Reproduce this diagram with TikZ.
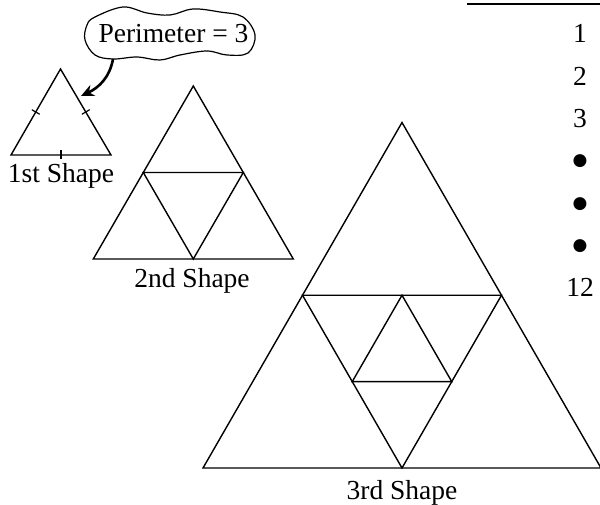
\documentclass[tikz,border=0pt]{standalone}
\usepackage{fontspec}
\setmainfont{Liberation Serif}
\newfontfamily\dotfont{DejaVu Sans}
\usetikzlibrary{arrows.meta, calc, positioning}
\newcommand{\bigdot}{\raisebox{2pt}{\dotfont\fontsize{8.5}{9}\selectfont ●}}

\begin{document}
\begin{tikzpicture}[
        x=0.5pt, y=0.5pt,
        edge/.style={line width=0.7pt, line join=miter},
        tickmark/.style={line width=0.6pt},
        caption/.style={font=\fontsize{13.75}{16}\selectfont, anchor=base, inner sep=0pt},
        callout/.style={line width=0.6pt},
        pointer/.style={line width=1.3pt, -{Stealth[length=6.5pt, width=6pt]}}
    ]
        \useasboundingbox (0,0) rectangle (600,504);

        % 1st Shape
        \coordinate (a1) at (60.5,435);
        \coordinate (b1) at (11,349);
        \coordinate (c1) at (111,349);
        \draw[edge] (a1) -- (b1) -- (c1) -- cycle;
        \foreach \p/\q in {a1/b1, a1/c1, b1/c1} {
            \path ($(\p)!0.5!(\q)$) coordinate (mid);
            \draw[tickmark] ($(mid)!2.25pt!90:(\q)$) -- ($(mid)!2.25pt!-90:(\q)$);
        }
        \node[caption] (cap1) at (61,321) {1st Shape};

        % Callout
        \node[caption] (perim) at (173.5,461) {Perimeter = 3};
        \draw[callout] plot[smooth cycle, tension=0.6] coordinates {
            (95,487) (123,497) (147,491) (170,489) (193,495) (220,492) (243,487)
            (255,469) (248,451) (227,449) (207,453) (180,449) (160,444) (137,447)
            (113,445) (95,449) (85,464) (87,479)};
        \coordinate (tail) at (113,445);
        \coordinate (tip) at (81,408);
        \draw[pointer] (tail) to[out=-100, in=25] (tip);

        % 2nd Shape
        \coordinate (a2) at (193.3,418);
        \coordinate (b2) at (93.3,245);
        \coordinate (c2) at (293.3,245);
        \coordinate (ab2) at ($(a2)!0.5!(b2)$);
        \coordinate (bc2) at ($(b2)!0.5!(c2)$);
        \coordinate (ca2) at ($(c2)!0.5!(a2)$);
        \draw[edge] (a2) -- (b2) -- (c2) -- cycle;
        \draw[edge] (ab2) -- (bc2) -- (ca2) -- cycle;
        \node[caption] (cap2) at (192,216) {2nd Shape};

        % 3rd Shape
        \coordinate (a3) at (402,381.5);
        \coordinate (b3) at (203,36);
        \coordinate (c3) at (601,36);
        \coordinate (ab3) at ($(a3)!0.5!(b3)$);
        \coordinate (bc3) at ($(b3)!0.5!(c3)$);
        \coordinate (ca3) at ($(c3)!0.5!(a3)$);
        \coordinate (top3) at ($(ab3)!0.5!(ca3)$);
        \coordinate (left3) at ($(ab3)!0.5!(bc3)$);
        \coordinate (right3) at ($(ca3)!0.5!(bc3)$);
        \draw[edge] (a3) -- (b3) -- (c3) -- cycle;
        \draw[edge] (ab3) -- (bc3) -- (ca3) -- cycle;
        \draw[edge] (top3) -- (left3) -- (right3) -- cycle;
        \node[caption] (cap3) at (402,5) {3rd Shape};

        % Column of values
        \coordinate (ruleL) at (467,500);
        \coordinate (ruleR) at (600,500);
        \draw[line width=1pt] (ruleL) -- (ruleR);
        \foreach \v [count=\i] in {1,2,3,\bigdot,\bigdot,\bigdot,12}
            \node[caption] (row\i) at (580,{503.3-42.3*\i}) {\v};

    \end{tikzpicture}
\end{document}
